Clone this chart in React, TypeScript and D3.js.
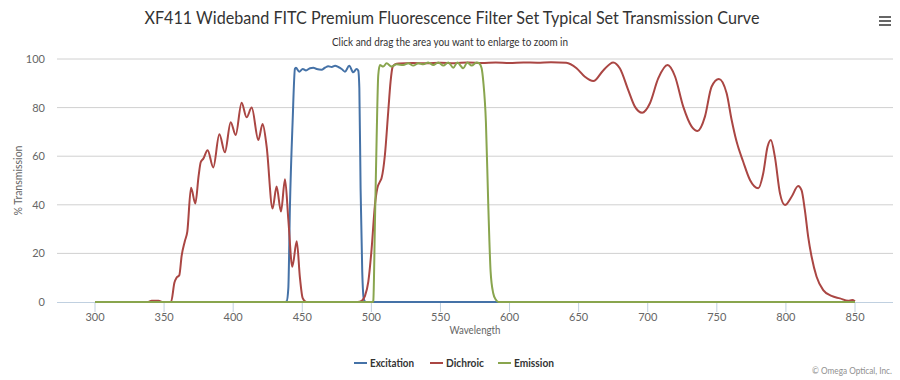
import React from "react";
import * as d3 from "d3";

const xTicks = [300, 350, 400, 450, 500, 550, 600, 650, 700, 750, 800, 850];
const yTicks = [0, 20, 40, 60, 80, 100];

const excitation: [number, number][] = [
  [300, 0], [437, 0], [438.7, 0.3], [439.9, 5.6], [441.1, 40], [443, 74], [444.7, 96], [445.4, 96.4],
  [447.8, 94.8], [450.3, 95.9], [452.7, 95.3], [455.6, 96.2], [458, 96.4], [460.4, 95.9], [464, 95.6],
  [466.4, 96.4], [468.8, 97], [471.3, 96.7], [473.7, 97.2], [476.1, 96.7], [478.5, 95.9], [480.9, 94.8],
  [484, 97.2], [486.9, 94.5], [489.3, 95.9], [490.5, 95.3], [491.3, 88], [492.2, 46.8], [493.4, 12.5],
  [494.6, 1], [496, 0], [850, 0],
];

const dichroic: [number, number][] = [
  [300, 0], [338, 0], [341, 0.5], [346, 0.5], [349, 0], [355, 0], [357.5, 8], [359, 10], [361, 11],
  [362.7, 19], [365, 25], [366.8, 29], [369.5, 47], [372.6, 40.5], [375, 52], [376.5, 57.5], [378.4, 59],
  [381.5, 62.5], [385.6, 55.4], [390, 69], [394, 61.6], [398.2, 74], [401.8, 68.7], [406.1, 82],
  [409.7, 76], [413.4, 80], [418.2, 66.7], [421.3, 73.2], [424.2, 64], [428.5, 38.5], [431.4, 47.5],
  [434.6, 37.2], [437.5, 50.5], [439.9, 34], [442.8, 14.5], [446, 25], [448.3, 10], [450.3, 1.6],
  [453, 0], [490, 0], [493, 0.5], [495.4, 2.5], [497.8, 8.4], [500.2, 22], [502.6, 40], [504.3, 46.8],
  [506.2, 49.5], [507.4, 51], [509.8, 60.5], [512.2, 78.3], [513.9, 90.7], [515.4, 96.8], [517, 97.8],
  [520, 98.2], [530, 98.4], [540, 98.2], [550, 98.5], [560, 98.3], [570, 98.6], [580, 98.4],
  [590, 98.6], [600, 98.4], [610, 98.6], [620, 98.5], [630, 98.7], [641, 98.5], [648.5, 96.2],
  [654.5, 92.7], [660.6, 90.9], [667.8, 95.3], [675, 98.6], [679.9, 96.1], [685.9, 87.2], [690.7, 80.4],
  [696, 77.9], [701.6, 81.8], [707.6, 92], [714.4, 97.5], [719.7, 92.9], [725.7, 80.4], [731.8, 72.2],
  [736.1, 70.4], [741.4, 76.3], [746.2, 88.6], [751.5, 91.8], [757.1, 85.9], [760.7, 75], [764.3, 66],
  [769.1, 57.7], [774, 50.2], [780, 46.8], [783.6, 53], [786.7, 63.9], [789.1, 66.7], [792, 59.8],
  [795.7, 44.7], [799.3, 39.9], [804.1, 43.3], [808.9, 47.7], [811.3, 46], [813.7, 37.9], [816.1, 26.9],
  [818.6, 18.6], [822.2, 10.4], [827, 4.9], [833, 2.5], [839.1, 1.5], [845.1, 0.5], [848, 0.8], [850, 0.3],
];

const emission: [number, number][] = [
  [300, 0], [501, 0], [501.4, 0.5], [502.6, 33], [503.8, 67], [505, 93.4], [506.2, 97.5], [508.6, 96.9],
  [511, 98.2], [514.7, 96.9], [518.3, 97.8], [523.1, 97.5], [526.7, 98.2], [530.3, 97.3], [534, 98.2],
  [537.6, 97.8], [541.2, 98.6], [544.8, 97.5], [548.4, 98.6], [552.1, 97.3], [555.7, 98.6], [559.3, 96.4],
  [562.2, 98.6], [566.5, 96.2], [569.4, 98.6], [572.6, 97.3], [576.2, 98.6], [578.1, 98.2], [579.8, 96.2],
  [581, 90.7], [582.9, 74], [584.6, 40], [586.3, 12.5], [588.2, 3.6], [590, 1], [592, 0], [850, 0],
];

const seriesNames = ["Excitation", "Dichroic", "Emission"];
const seriesColors = ["#4572A7", "#AA4643", "#89A54E"];
const seriesData = [excitation, dichroic, emission];

const FONT = "Lato, 'Open Sans', 'Liberation Sans', sans-serif";

export default function App() {
  const W = 900, H = 380;
  const x = d3.scaleLinear().domain([272.5, 877.5]).range([57, 893]);
  const y = d3.scaleLinear().domain([0, 100]).range([302, 59]);
  const line = d3
    .line<[number, number]>()
    .x((d) => x(d[0]))
    .y((d) => y(d[1]))
    .curve(d3.curveMonotoneX);

  const legendX = [354, 430, 498];
  const legendW = [44, 38, 40];

  return (
    <svg width={W} height={H} style={{ position: "absolute", left: 0, top: 0, fontFamily: FONT }}>
      <rect x={0} y={0} width={W} height={H} fill="#fff" />
      <text x={452} y={24} textAnchor="middle" fontSize={17} fill="#333" textLength={615} lengthAdjust="spacingAndGlyphs">
        XF411 Wideband FITC Premium Fluorescence Filter Set Typical Set Transmission Curve
      </text>
      <text x={450} y={46} textAnchor="middle" fontSize={11} fill="#333" textLength={236} lengthAdjust="spacingAndGlyphs">
        Click and drag the area you want to enlarge to zoom in
      </text>
      <g fill="#666">
        <rect x={879} y={16} width={12} height={2} />
        <rect x={879} y={20} width={12} height={2} />
        <rect x={879} y={24} width={12} height={2} />
      </g>
      {yTicks.filter((t) => t !== 0).map((t) => (
        <line key={t} x1={57} x2={893} y1={y(t)} y2={y(t)} stroke="#D0D0D0" strokeWidth={1} />
      ))}
      {yTicks.map((t) => (
        <text key={t} x={45} y={y(t) + 4} textAnchor="end" fontSize={11} fill="#666">
          {t}
        </text>
      ))}
      <text
        transform={`translate(22,${(y(0) + y(100)) / 2}) rotate(-90)`}
        textAnchor="middle"
        fontSize={11}
        fill="#666"
        textLength={70}
        lengthAdjust="spacingAndGlyphs"
      >
        % Transmission
      </text>
      <line x1={57} x2={893} y1={302.5} y2={302.5} stroke="#C0D0E0" strokeWidth={1} />
      {xTicks.map((t) => (
        <g key={t}>
          <line x1={x(t)} x2={x(t)} y1={302} y2={312} stroke="#C0D0E0" strokeWidth={1} />
          <text x={x(t)} y={321} textAnchor="middle" fontSize={11} fill="#666">
            {t}
          </text>
        </g>
      ))}
      <text x={475} y={334} textAnchor="middle" fontSize={11} fill="#666" textLength={51} lengthAdjust="spacingAndGlyphs">
        Wavelength
      </text>
      {seriesData.map((d, i) => (
        <path key={i} d={line(d) || ""} fill="none" stroke={seriesColors[i]} strokeWidth={2} strokeLinejoin="round" />
      ))}
      {seriesNames.map((n, i) => (
        <g key={n}>
          <line x1={legendX[i]} x2={legendX[i] + 13} y1={363} y2={363} stroke={seriesColors[i]} strokeWidth={2} />
          <text x={legendX[i] + 16} y={367} fontSize={12} fontWeight="bold" fill="#333" textLength={legendW[i]} lengthAdjust="spacingAndGlyphs">
            {n}
          </text>
        </g>
      ))}
      <text x={892} y={374} textAnchor="end" fontSize={9} fill="#909090" textLength={80} lengthAdjust="spacingAndGlyphs">
        © Omega Optical, Inc.
      </text>
    </svg>
  );
}
